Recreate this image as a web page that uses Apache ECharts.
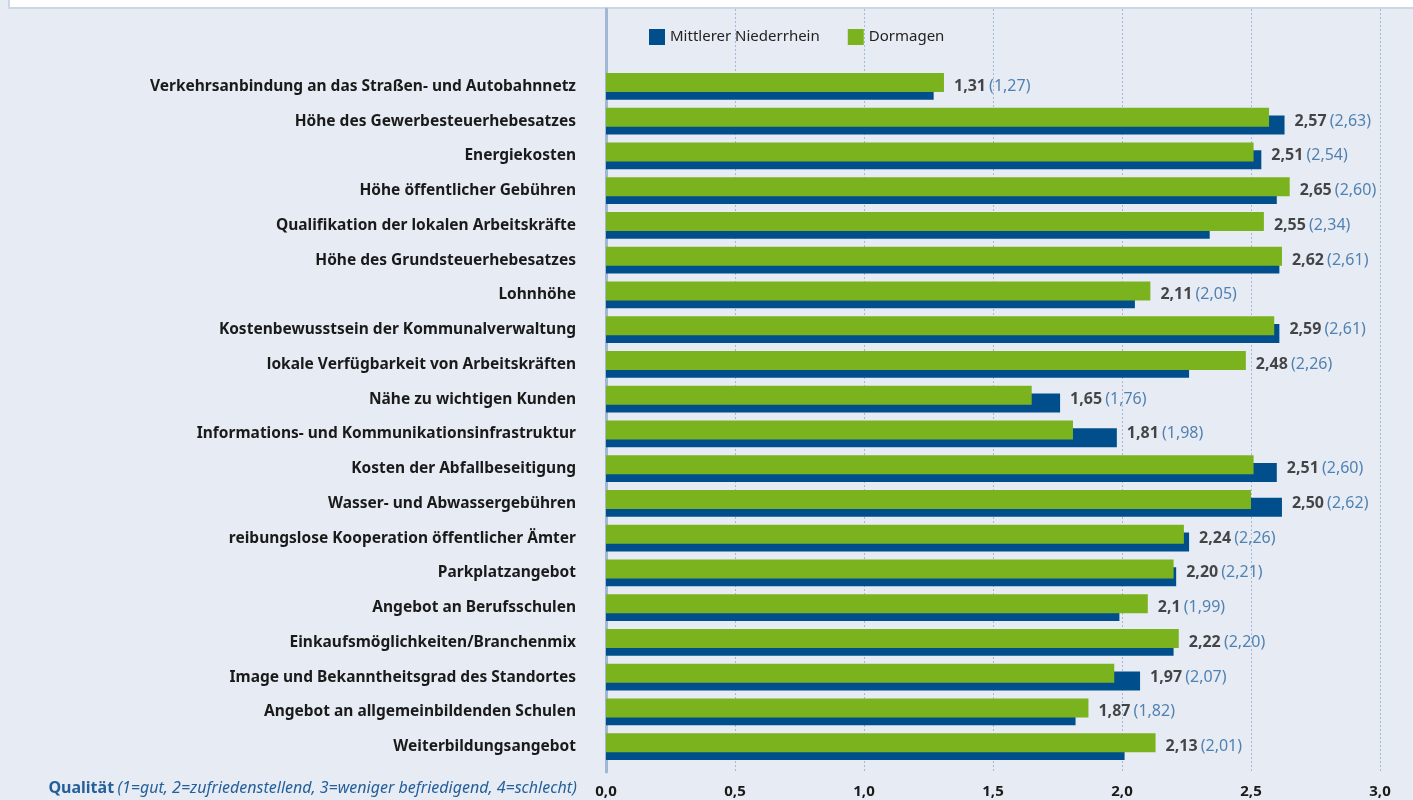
<!DOCTYPE html>
<html>
<head>
<meta charset="utf-8">
<script src="https://cdn.jsdelivr.net/npm/echarts@6/dist/echarts.min.js"></script>
<style>
  html, body { margin: 0; padding: 0; background: #e7ecf4; }
  #chart { width: 1413px; height: 800px; }
</style>
</head>
<body>
<div id="chart"></div>
<script>
// Standortfaktoren, Qualitaet (Dormagen vs. Mittlerer Niederrhein)
var categories = [
  "Verkehrsanbindung an das Straßen- und Autobahnnetz",
  "Höhe des Gewerbesteuerhebesatzes",
  "Energiekosten",
  "Höhe öffentlicher Gebühren",
  "Qualifikation der lokalen Arbeitskräfte",
  "Höhe des Grundsteuerhebesatzes",
  "Lohnhöhe",
  "Kostenbewusstsein der Kommunalverwaltung",
  "lokale Verfügbarkeit von Arbeitskräften",
  "Nähe zu wichtigen Kunden",
  "Informations- und Kommunikationsinfrastruktur",
  "Kosten der Abfallbeseitigung",
  "Wasser- und Abwassergebühren",
  "reibungslose Kooperation öffentlicher Ämter",
  "Parkplatzangebot",
  "Angebot an Berufsschulen",
  "Einkaufsmöglichkeiten/Branchenmix",
  "Image und Bekanntheitsgrad des Standortes",
  "Angebot an allgemeinbildenden Schulen",
  "Weiterbildungsangebot"
];
var dormagen = [1.31, 2.57, 2.51, 2.65, 2.55, 2.62, 2.11, 2.59, 2.48, 1.65,
                1.81, 2.51, 2.50, 2.24, 2.20, 2.1, 2.22, 1.97, 1.87, 2.13];
var niederrhein = [1.27, 2.63, 2.54, 2.60, 2.34, 2.61, 2.05, 2.61, 2.26, 1.76,
                   1.98, 2.60, 2.62, 2.26, 2.21, 1.99, 2.20, 2.07, 1.82, 2.01];
// Beschriftung wie im Original (2,1 ohne zweite Nachkommastelle)
var dormagenText = ["1,31", "2,57", "2,51", "2,65", "2,55", "2,62", "2,11", "2,59", "2,48", "1,65",
                    "1,81", "2,51", "2,50", "2,24", "2,20", "2,1", "2,22", "1,97", "1,87", "2,13"];
var niederrheinText = ["1,27", "2,63", "2,54", "2,60", "2,34", "2,61", "2,05", "2,61", "2,26", "1,76",
                       "1,98", "2,60", "2,62", "2,26", "2,21", "1,99", "2,20", "2,07", "1,82", "2,01"];
var xTicks = ["0,0", "0,5", "1,0", "1,5", "2,0", "2,5", "3,0"];

var FONT = "Noto Sans";

var labelPoints = categories.map(function (c, i) {
  return [Math.max(dormagen[i], niederrhein[i]), c];
});

var myChart = echarts.init(document.getElementById("chart"));
var option = {
  backgroundColor: "#e7ecf4",
  textStyle: { fontFamily: FONT },
  animation: false,
  legend: {
    data: ["Mittlerer Niederrhein", "Dormagen"],
    left: 644,
    top: 24,
    itemWidth: 16,
    itemHeight: 16,
    itemGap: 28,
    icon: "rect",
    textStyle: { fontFamily: FONT, fontSize: 15, color: "#222" }
  },
  grid: [
    // Rahmen fuer Gitterlinien und Achsen
    { left: 606, right: 33, top: 9, bottom: 28, containLabel: false },
    // Balkenbereich
    { left: 606, right: 33, top: 69, bottom: 36, containLabel: false }
  ],
  xAxis: [
    {
      gridIndex: 0,
      type: "value",
      min: 0,
      max: 3,
      interval: 0.5,
      axisLine: { show: false },
      axisTick: { show: false },
      axisLabel: {
        show: true,
        margin: 12,
        fontSize: 15,
        fontWeight: "bold",
        color: "#1a1a1a",
        formatter: function (v) { return xTicks[Math.round(v * 2)]; }
      },
      splitLine: {
        show: true,
        lineStyle: { color: "#a5bad8", type: [2, 2], width: 1 }
      }
    },
    {
      gridIndex: 1,
      type: "value",
      min: 0,
      max: 3,
      show: false
    }
  ],
  yAxis: [
    {
      gridIndex: 0,
      type: "value",
      min: 0,
      max: 1,
      axisLine: { show: true, lineStyle: { color: "#a3b6d3", width: 3 } },
      axisTick: { show: false },
      axisLabel: { show: false },
      splitLine: { show: false }
    },
    {
      gridIndex: 1,
      type: "category",
      inverse: true,
      data: categories,
      axisLine: { show: false },
      axisTick: { show: false },
      axisLabel: {
        margin: 30,
        fontSize: 15.5,
        fontWeight: "bold",
        color: "#1a1a1a"
      }
    }
  ],
  series: [
    {
      name: "Dormagen",
      type: "bar",
      xAxisIndex: 1,
      yAxisIndex: 1,
      data: dormagen,
      barWidth: 19,
      barGap: "-58%",
      itemStyle: { color: "#7ab31e" },
      z: 3
    },
    {
      name: "Mittlerer Niederrhein",
      type: "bar",
      xAxisIndex: 1,
      yAxisIndex: 1,
      data: niederrhein,
      barWidth: 19,
      barGap: "-58%",
      itemStyle: { color: "#004f8c" },
      z: 2
    },
    {
      // Wertebeschriftung rechts neben dem laengeren Balken
      type: "scatter",
      xAxisIndex: 1,
      yAxisIndex: 1,
      data: labelPoints,
      symbolSize: 0,
      silent: true,
      z: 4,
      label: {
        show: true,
        position: "right",
        distance: 10,
        formatter: function (p) {
          return "{a|" + dormagenText[p.dataIndex] + "} {b|(" + niederrheinText[p.dataIndex] + ")}";
        },
        rich: {
          a: { fontFamily: FONT, fontSize: 16, fontWeight: "bold", color: "#1a1a1a" },
          b: { fontFamily: FONT, fontSize: 16, color: "#2a67a0" }
        }
      }
    }
  ],
  graphic: [
    {
      type: "rect",
      shape: { x: 9, y: -2, width: 1410, height: 10 },
      style: { fill: "#ffffff", stroke: "#ccd6e4", lineWidth: 2 },
      silent: true
    },
    {
      type: "text",
      right: 836,
      top: 780,
      style: {
        text: "{q|Qualität} {r|(1=gut, 2=zufriedenstellend, 3=weniger befriedigend, 4=schlecht)}",
        rich: {
          q: { fontFamily: FONT, fontSize: 16, fontWeight: "bold", fill: "#245f99" },
          r: { fontFamily: FONT, fontSize: 16, fontStyle: "italic", fill: "#245f99" }
        }
      }
    }
  ]
};
myChart.setOption(option);
window.addEventListener("resize", function () {
  myChart.resize();
});
</script>
</body>
</html>
